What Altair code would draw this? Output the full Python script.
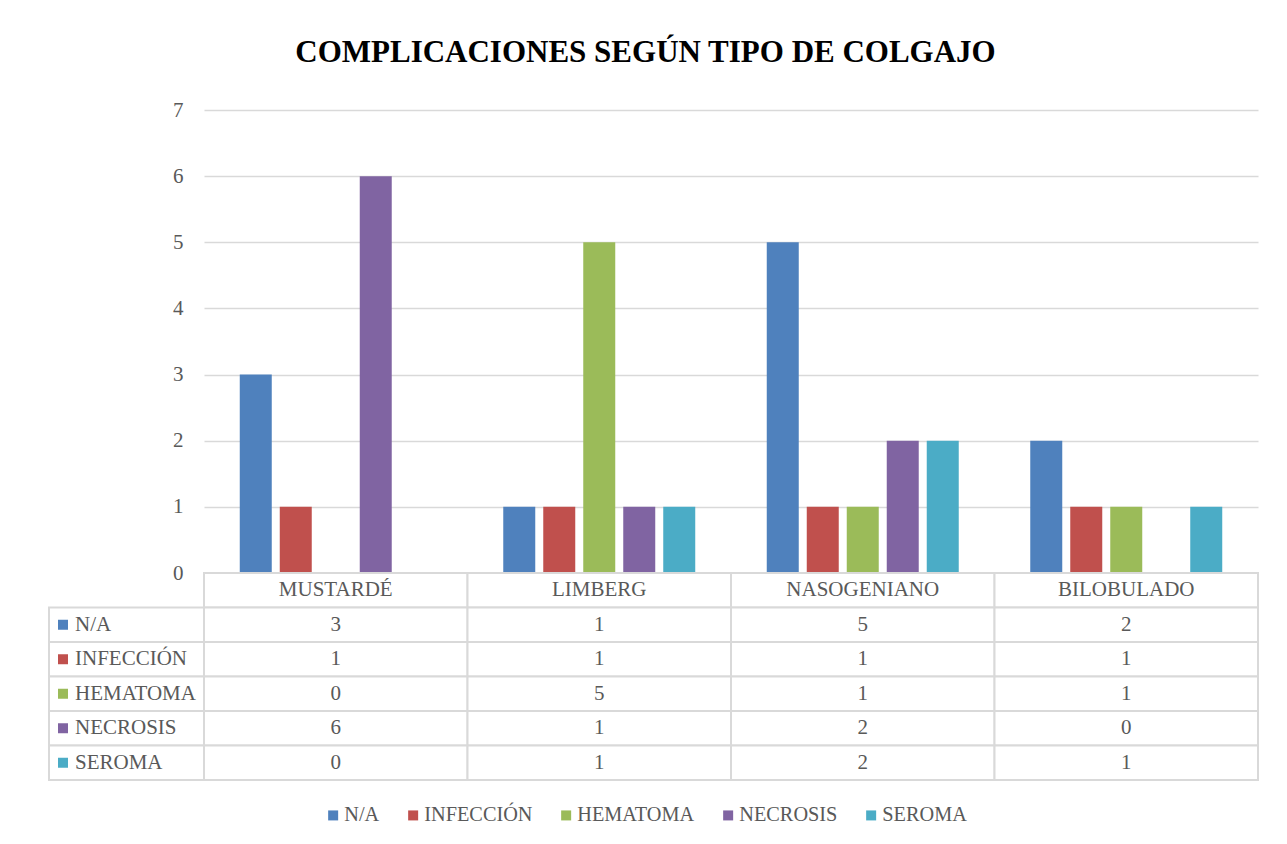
import altair as alt
import pandas as pd

categories = ["MUSTARDÉ", "LIMBERG", "NASOGENIANO", "BILOBULADO"]
series = ["N/A", "INFECCIÓN", "HEMATOMA", "NECROSIS", "SEROMA"]
na_vals = [3, 1, 5, 2]
infeccion_vals = [1, 1, 1, 1]
hematoma_vals = [0, 5, 1, 1]
necrosis_vals = [6, 1, 2, 0]
seroma_vals = [0, 1, 2, 1]
colors = ["#4F81BD", "#C0504D", "#9BBB59", "#8064A2", "#4BACC6"]
y_ticks = [0, 1, 2, 3, 4, 5, 6, 7]

all_vals = [na_vals, infeccion_vals, hematoma_vals, necrosis_vals, seroma_vals]
rows = []
for s, vals in zip(series, all_vals):
    for c, v in zip(categories, vals):
        rows.append({"category": c, "series": s, "value": v})
df = pd.DataFrame(rows)

HDR = " "
row_domain = [HDR] + series

cell_rows = []
for c in categories:
    cell_rows.append({"category": c, "row": HDR, "label": c})
for s, vals in zip(series, all_vals):
    for c, v in zip(categories, vals):
        cell_rows.append({"category": c, "row": s, "label": str(v)})
cells_df = pd.DataFrame(cell_rows)
left_df = pd.DataFrame({"row": series, "series": series})

FONT = "Liberation Serif"
GRAY = "#595959"
LINE = "#D9D9D9"
PLOT_W = 1054
LEFT_W = 155
BAR_H = 463
TAB_H = 207

color_scale = alt.Scale(domain=series, range=colors)

bars = alt.Chart(df).mark_bar().encode(
    x=alt.X("category:N", sort=categories, axis=None,
            scale=alt.Scale(paddingInner=0, paddingOuter=0)),
    xOffset=alt.XOffset("series:N", sort=series,
                        scale=alt.Scale(paddingInner=0.2, paddingOuter=0.894)),
    y=alt.Y("value:Q", scale=alt.Scale(domain=[0, 7]),
            axis=alt.Axis(values=y_ticks, title=None, ticks=False, domain=False,
                          labelPadding=21, labelFontSize=21, labelColor=GRAY,
                          labelFont=FONT, gridColor=LINE, gridWidth=1.5)),
    color=alt.Color("series:N", scale=color_scale, sort=series,
                    legend=alt.Legend(title=None, orient="none", direction="horizontal",
                                      legendX=274, legendY=695, padding=0,
                                      symbolType="square", symbolSize=100,
                                      symbolStrokeWidth=0, labelFontSize=20.3,
                                      labelColor=GRAY, labelFont=FONT,
                                      labelOffset=1, columnPadding=23)),
).properties(width=PLOT_W, height=BAR_H)

blank = alt.Chart(pd.DataFrame({"a": [0]})).mark_text(text="").encode(
    x=alt.value(0), y=alt.value(0)
).properties(width=LEFT_W, height=BAR_H)

y_tab = alt.Y("row:N", sort=row_domain,
              scale=alt.Scale(domain=row_domain, paddingInner=0, paddingOuter=0),
              axis=None)

left_base = alt.Chart(left_df)
left_rect = left_base.mark_rect(fill="white", stroke=LINE, strokeWidth=2).encode(
    y=y_tab, x=alt.value(0), x2=alt.value(LEFT_W)
)
left_sq = left_base.mark_square(size=100, opacity=1).encode(
    y=y_tab, x=alt.value(14),
    color=alt.Color("series:N", scale=color_scale, sort=series, legend=None),
)
left_txt = left_base.mark_text(align="left", baseline="middle", font=FONT,
                               fontSize=21, color=GRAY).encode(
    y=y_tab, x=alt.value(26), text=alt.Text("series:N")
)
left_col = alt.layer(left_rect, left_sq, left_txt).properties(width=LEFT_W, height=TAB_H)

x_tab = alt.X("category:N", sort=categories,
              scale=alt.Scale(domain=categories, paddingInner=0, paddingOuter=0),
              axis=None)
cells_base = alt.Chart(cells_df)
cells_rect = cells_base.mark_rect(fill="white", stroke=LINE, strokeWidth=2).encode(
    x=x_tab, y=y_tab
)
cells_txt = cells_base.mark_text(baseline="middle", font=FONT, fontSize=21,
                                 color=GRAY).encode(
    x=x_tab, y=y_tab, text="label:N"
)
cells = alt.layer(cells_rect, cells_txt).properties(width=PLOT_W, height=TAB_H)

chart = alt.concat(
    blank, bars, left_col, cells, columns=2, spacing=0, bounds="flush"
).properties(
    title=alt.Title("COMPLICACIONES SEGÚN TIPO DE COLGAJO", font=FONT, fontSize=31,
                    fontWeight="bold", color="black", anchor="middle", offset=30, dx=-8),
    padding={"left": 40, "top": 29, "right": 10, "bottom": 10},
).configure_view(stroke=None).configure_concat(spacing=0).configure_text(font=FONT)

chart.save("out.html", embed_options={"renderer": "svg", "actions": False})
